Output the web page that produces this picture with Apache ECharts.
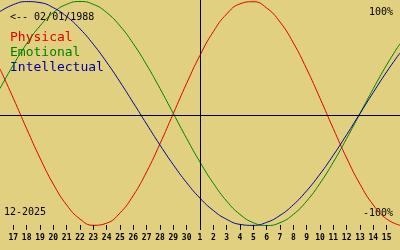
<!DOCTYPE html>
<html><head><meta charset="utf-8">
<script src="https://cdn.jsdelivr.net/npm/echarts@6/dist/echarts.min.js"></script>
<style>html,body{margin:0;padding:0;background:#e0d080;}#c{width:400px;height:250px;}</style>
</head><body><div id="c"></div>
<script>
// day labels for ticks (Nov 17..30, Dec 1..15)
var dayLabels = ['17','18','19','20','21','22','23','24','25','26','27','28','29','30','1','2','3','4','5','6','7','8','9','10','11','12','13','14','15'];
// categories include one edge point on each side (drawn at chart borders)
var categories = [''].concat(dayLabels).concat(['']);
// values in percent, one per category (edge, 17 .. 15, edge)
var physical = [39.8, 13.6, -13.6, -39.8, -63.1, -81.7, -94.2, -99.8, -97.9, -88.8, -73.1, -52.0, -27.0, 0, 27.0, 52.0, 73.1, 88.8, 97.9, 99.8, 94.2, 81.7, 63.1, 39.8, 13.6, -13.6, -39.8, -63.1, -81.7, -94.2, -99.8];
var emotional = [22.3, 43.4, 62.3, 78.2, 90.1, 97.5, 100, 97.5, 90.1, 78.2, 62.3, 43.4, 22.3, 0, -22.3, -43.4, -62.3, -78.2, -90.1, -97.5, -100, -97.5, -90.1, -78.2, -62.3, -43.4, -22.3, 0, 22.3, 43.4, 62.3];
var intellectual = [91.0, 97.2, 99.9, 99.0, 94.5, 86.6, 75.6, 61.8, 45.8, 28.2, 9.5, -9.5, -28.2, -45.8, -61.8, -75.6, -86.6, -94.5, -99.0, -99.9, -97.2, -91.0, -81.5, -69.0, -54.1, -37.2, -18.9, 0, 18.9, 37.2, 54.1];
var seriesNames = ['Physical', 'Emotional', 'Intellectual'];
var birthText = '<-- 02/01/1988';
var monthText = '12-2025';
var topText = '100%';
var bottomText = '-100%';
var todayIndex = 15; // category index of "1"

var colors = ['#e00000', '#008000', '#0000a0'];
var mono = 'DejaVu Sans Mono';
var yMin = -104.02, yMax = 101.34, tickTop = -99.55, tickBottom = -103.9;
var chart = echarts.init(document.getElementById('c'), null, {renderer: 'canvas'});
var shownLabel = function (idx) { return idx > 0 && idx < categories.length - 1; };
var tickSegments = dayLabels.map(function (d, k) {
  return [{coord: [k + 1, tickTop]}, {coord: [k + 1, tickBottom]}];
});
chart.setOption({
  backgroundColor: '#e0d080',
  animation: false,
  grid: {left: 0, right: 0, top: 0, height: 230},
  xAxis: {
    type: 'category', data: categories, boundaryGap: false, position: 'bottom',
    axisLine: {show: false, onZero: false},
    axisTick: {show: false},
    axisLabel: {show: true, interval: function (i) { return shownLabel(i); }, margin: 4, fontFamily: mono, fontSize: 8, fontWeight: 'bold', color: '#000'},
    splitLine: {show: false}
  },
  yAxis: {type: 'value', min: yMin, max: yMax, show: false},
  graphic: [
    {type: 'text', left: 10, top: 12, style: {text: birthText, font: '10px "' + mono + '"', fill: '#000'}},
    {type: 'text', left: 10, top: 31, style: {text: seriesNames[0], font: '13px "' + mono + '"', fill: colors[0]}},
    {type: 'text', left: 10, top: 46, style: {text: seriesNames[1], font: '13px "' + mono + '"', fill: colors[1]}},
    {type: 'text', left: 10, top: 61, style: {text: seriesNames[2], font: '13px "' + mono + '"', fill: colors[2]}},
    {type: 'text', right: 7, top: 7, style: {text: topText, font: '10px "' + mono + '"', fill: '#000'}},
    {type: 'text', right: 7, top: 208, style: {text: bottomText, font: '10px "' + mono + '"', fill: '#000'}},
    {type: 'text', left: 4, top: 207, style: {text: monthText, font: '10px "' + mono + '"', fill: '#000'}}
  ],
  series: [
    {type: 'line', name: seriesNames[0], data: physical, smooth: true, showSymbol: false, lineStyle: {color: colors[0], width: 1}, z: 2,
      markLine: {silent: true, symbol: 'none', label: {show: false}, lineStyle: {color: '#000', width: 1, type: 'solid'},
        data: [{yAxis: -1.3}, {xAxis: todayIndex}].concat(tickSegments)}},
    {type: 'line', name: seriesNames[1], data: emotional, smooth: true, showSymbol: false, lineStyle: {color: colors[1], width: 1}, z: 2},
    {type: 'line', name: seriesNames[2], data: intellectual, smooth: true, showSymbol: false, lineStyle: {color: colors[2], width: 1}, z: 2}
  ]
});
</script></body></html>
